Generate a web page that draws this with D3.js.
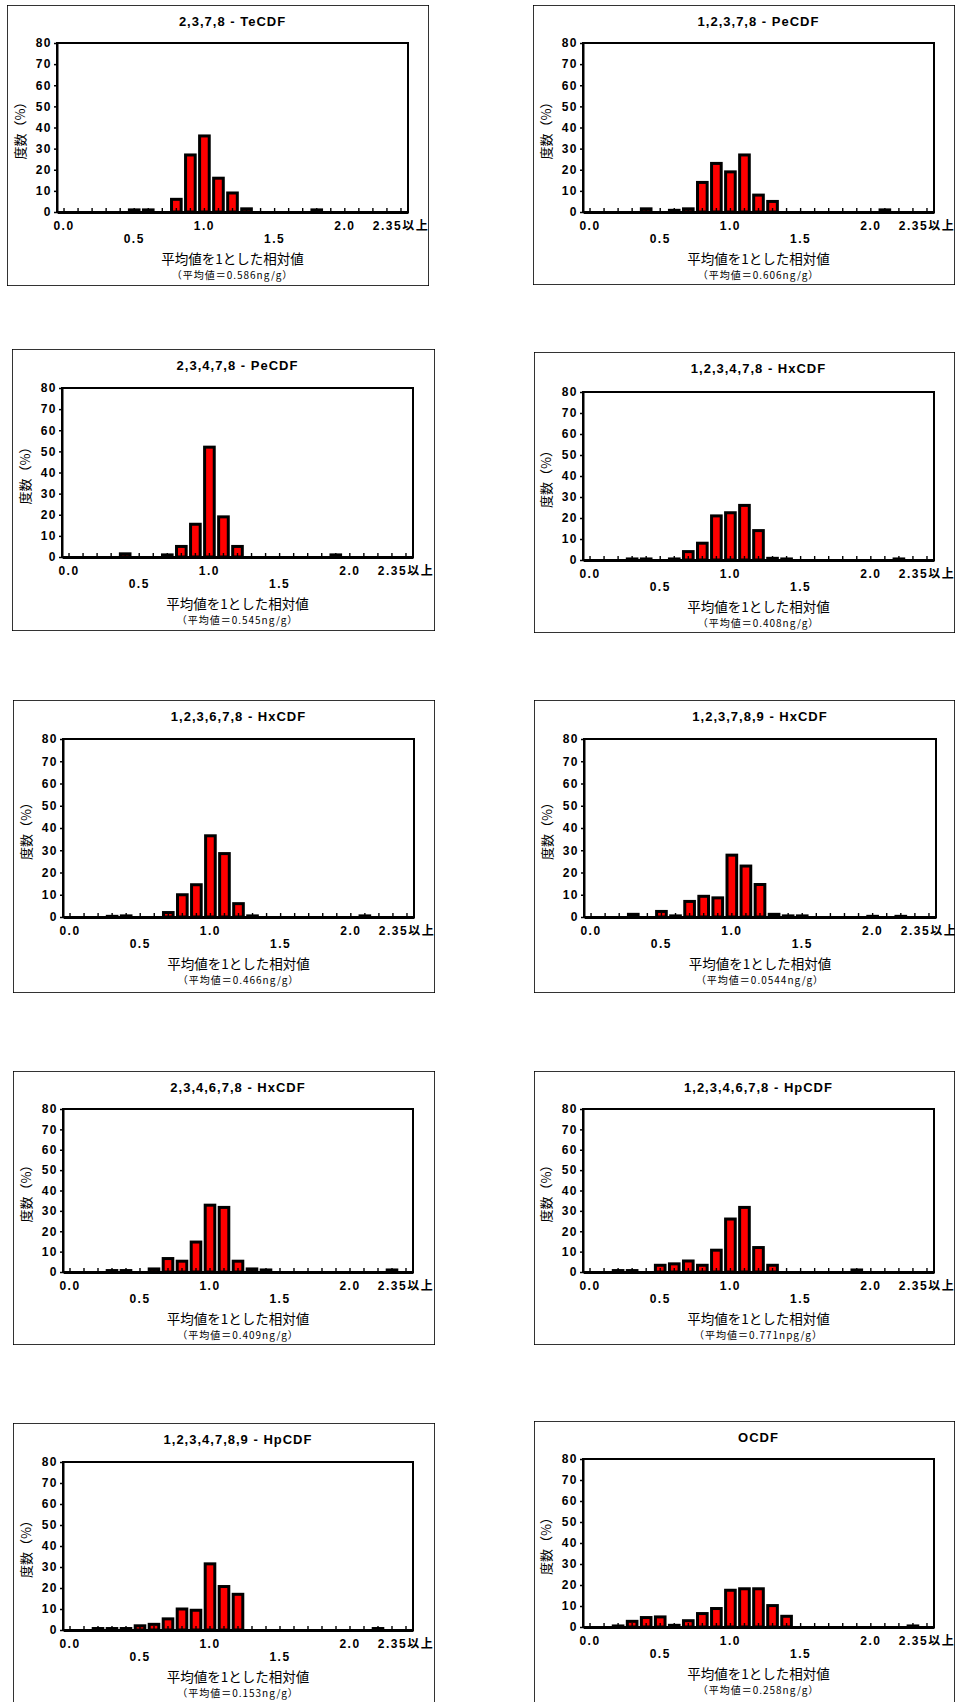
<!DOCTYPE html>
<html>
<head>
<meta charset="utf-8">
<script src="https://cdn.jsdelivr.net/npm/d3@7"></script>
<style>
    body { margin: 0; background: #fff; }
    svg text { font-family: "Liberation Sans", Arial, sans-serif; }
    svg text.jp { font-family: "Noto Sans CJK JP", "Liberation Sans", sans-serif; }
</style>
</head>
<body>
<svg id="chart" width="956" height="1702"></svg>
<script>
'use strict';

// categories (bin centres, last bin is open-ended)
const categories = ["0.0", "0.1", "0.2", "0.3", "0.4", "0.5", "0.6", "0.7", "0.8", "0.9",
    "1.0", "1.1", "1.2", "1.3", "1.4", "1.5", "1.6", "1.7", "1.8", "1.9",
    "2.0", "2.1", "2.2", "2.3", "2.35以上"];
const shownLabels = ["0.0", "0.5", "1.0", "1.5", "2.0", "2.35以上"];
const lowerLabels = ["0.5", "1.5"];
const yTicks = [0, 10, 20, 30, 40, 50, 60, 70, 80];

const titles = ["2,3,7,8 - TeCDF", "1,2,3,7,8 - PeCDF", "2,3,4,7,8 - PeCDF", "1,2,3,4,7,8 - HxCDF",
    "1,2,3,6,7,8 - HxCDF", "1,2,3,7,8,9 - HxCDF", "2,3,4,6,7,8 - HxCDF", "1,2,3,4,6,7,8 - HpCDF",
    "1,2,3,4,7,8,9 - HpCDF", "OCDF"];
const means = ["0.586ng/g", "0.606ng/g", "0.545ng/g", "0.408ng/g", "0.466ng/g",
    "0.0544ng/g", "0.409ng/g", "0.771npg/g", "0.153ng/g", "0.258ng/g"];

// frequency (%) per bin
const teCDF2378 = [0, 0, 0, 0, 0, 1, 1, 0, 6, 27, 36, 16, 9, 1.5, 0, 0, 0, 0, 1, 0, 0, 0, 0, 0, 0];
const peCDF12378 = [0, 0, 0, 0, 1.5, 0, 0.8, 1.5, 14, 23, 19, 27, 8, 5, 0, 0, 0, 0, 0, 0, 0, 1, 0, 0, 0];
const peCDF23478 = [0, 0, 0, 0, 1.5, 0, 0, 1, 5, 15.5, 52, 19, 5, 0, 0, 0, 0, 0, 0, 1, 0, 0, 0, 0, 0];
const hxCDF123478 = [0, 0, 0, 0.5, 0.5, 0, 0.5, 4, 8, 21, 22.5, 26, 14, 0.8, 0.5, 0, 0, 0, 0, 0, 0, 0, 0.5, 0, 0];
const hxCDF123678 = [0, 0, 0, 0.3, 0.5, 0, 0, 2, 10, 14.5, 36.5, 28.5, 6, 0.5, 0, 0, 0, 0, 0, 0, 0, 0.5, 0, 0, 0];
const hxCDF123789 = [0, 0, 0, 1.2, 0, 2.5, 0.5, 7, 9.3, 8.6, 27.8, 22.9, 14.6, 1.2, 0.5, 0.5, 0, 0, 0, 0, 0.3, 0, 0.3, 0, 0];
const hxCDF234678 = [0, 0, 0, 0.7, 0.7, 0, 1.5, 6.6, 5.3, 14.7, 32.8, 31.7, 5.3, 1.5, 1, 0, 0, 0, 0, 0, 0, 0, 0, 1, 0];
const hpCDF1234678 = [0, 0, 0.7, 0.7, 0, 3.3, 4, 5.4, 3.3, 10.7, 26, 31.7, 12, 3.3, 0, 0, 0, 0, 0, 1, 0, 0, 0, 0, 0];
const hpCDF1234789 = [0, 0, 0.7, 0.7, 0.7, 2, 2.7, 5.3, 10, 9.4, 31.5, 20.7, 17, 0, 0, 0, 0, 0, 0, 0, 0, 0, 0.7, 0, 0];
const oCDF = [0, 0, 0.5, 2.7, 4.5, 4.8, 0.8, 3, 6.4, 8.8, 17.5, 18.2, 18.2, 10.2, 5.1, 0, 0, 0, 0, 0, 0, 0, 0, 0.5, 0];

const series = [teCDF2378, peCDF12378, peCDF23478, hxCDF123478, hxCDF123678,
    hxCDF123789, hxCDF234678, hpCDF1234678, hpCDF1234789, oCDF];

// panel frames: outer box and plot area
const panels = [
    { box: [7, 5, 422, 281], plot: [57, 43, 351, 169] },
    { box: [533, 5, 422, 280], plot: [583, 43, 351, 169] },
    { box: [12, 349, 423, 282], plot: [62, 388, 351, 169] },
    { box: [534, 352, 421, 281], plot: [583, 392, 351, 168] },
    { box: [13, 700, 422, 293], plot: [63, 739, 351, 178] },
    { box: [534, 700, 421, 293], plot: [584, 739, 352, 178] },
    { box: [13, 1071, 422, 274], plot: [63, 1109, 350, 163] },
    { box: [534, 1071, 421, 274], plot: [583, 1109, 351, 163] },
    { box: [13, 1423, 422, 290], plot: [63, 1462, 350, 168] },
    { box: [534, 1421, 421, 290], plot: [583, 1459, 351, 168] }
];

const svg = d3.select("#chart");

panels.forEach(function (p, i) {
    let [bx, by, bw, bh] = p.box;
    let [px, py, pw, ph] = p.plot;

    svg.append("clipPath").attr("id", "clip" + i)
        .append("rect").attr("x", bx).attr("y", by).attr("width", bw).attr("height", bh);

    let g = svg.append("g").attr("clip-path", `url(#clip${i})`);

    g.append("rect")
        .attr("x", bx).attr("y", by).attr("width", bw).attr("height", bh)
        .attr("fill", "#fff").attr("stroke", "#000").attr("stroke-width", 1.6);

    let x = d3.scaleBand().domain(categories).range([px, px + pw]).paddingInner(0.1).paddingOuter(0.05);
    let y = d3.scaleLinear().domain([0, 80]).range([py + ph, py]);

    let data = categories.map((c, k) => ({ cat: c, value: series[i][k] }));

    // bars
    g.selectAll(".bar")
        .data(data.filter(d => d.value > 0))
        .enter().append("rect")
        .attr("class", "bar")
        .attr("x", d => x(d.cat) + 1.5)
        .attr("width", x.bandwidth() - 3)
        .attr("y", d => y(d.value))
        .attr("height", d => y(0) - y(d.value))
        .attr("fill", "#ff0000")
        .attr("stroke", "#000")
        .attr("stroke-width", 3);

    // plot frame
    g.append("rect")
        .attr("x", px).attr("y", py).attr("width", pw).attr("height", ph)
        .attr("fill", "none").attr("stroke", "#000").attr("stroke-width", 2);

    // x axis: inward ticks at every bin, labels on two staggered rows
    let xAxis = g.append("g")
        .attr("transform", `translate(0,${py + ph})`)
        .call(d3.axisBottom(x).tickSizeInner(-4).tickSizeOuter(0)
            .tickFormat(d => shownLabels.includes(d) ? d : ""));
    xAxis.select(".domain").attr("stroke-width", 2.8);
    xAxis.selectAll(".tick line").attr("stroke-width", 1.4);
    xAxis.selectAll(".tick text")
        .attr("y", d => lowerLabels.includes(d) ? 27 : 14)
        .attr("dy", "0.35em")
        .attr("fill", "#000")
        .attr("font-size", "12px")
        .attr("font-weight", "bold")
        .attr("letter-spacing", "1.5px")
        .style("font-family", "'Liberation Sans', Arial, 'Noto Sans CJK JP', sans-serif");

    // y axis
    let yAxis = g.append("g")
        .attr("transform", `translate(${px},0)`)
        .call(d3.axisLeft(y).tickValues(yTicks).tickSizeInner(3).tickSizeOuter(0).tickPadding(2));
    yAxis.select(".domain").attr("stroke-width", 2);
    yAxis.selectAll(".tick line").attr("stroke-width", 1.5);
    yAxis.selectAll(".tick text")
        .attr("fill", "#000")
        .attr("font-size", "12px")
        .attr("font-weight", "bold")
        .attr("letter-spacing", "1.5px");

    let midX = px + pw / 2;

    g.append("text")
        .attr("x", midX).attr("y", by + 16).attr("dy", "0.35em")
        .attr("text-anchor", "middle")
        .attr("font-size", "13px").attr("font-weight", "bold")
        .attr("letter-spacing", "1px")
        .text(titles[i]);

    g.append("text")
        .attr("class", "jp")
        .attr("x", midX).attr("y", py + ph + 47).attr("dy", "0.35em")
        .attr("text-anchor", "middle")
        .attr("font-size", "13.5px")
        .text("平均値を1とした相対値");

    g.append("text")
        .attr("class", "jp")
        .attr("x", midX).attr("y", py + ph + 63).attr("dy", "0.35em")
        .attr("text-anchor", "middle")
        .attr("font-size", "10px")
        .attr("letter-spacing", "1px")
        .text(`（平均値＝${means[i]}）`);

    g.append("text")
        .attr("class", "jp")
        .attr("transform", `translate(${px - 37},${py + ph / 2}) rotate(-90)`)
        .attr("dy", "0.35em")
        .attr("text-anchor", "middle")
        .attr("font-size", "13px")
        .text("度数（%）");
});
</script>
</body>
</html>
